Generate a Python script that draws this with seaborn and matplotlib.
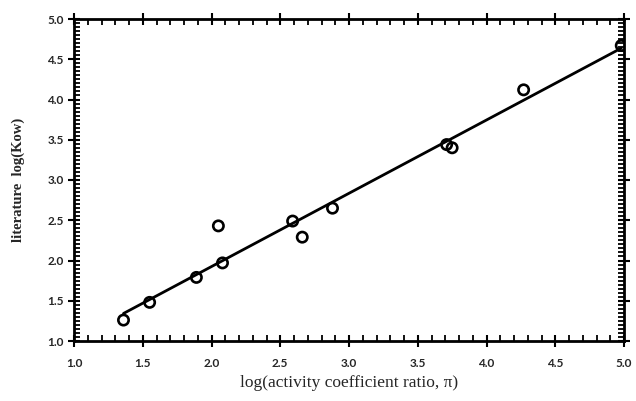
import numpy as np
import pandas as pd
import matplotlib
matplotlib.use("Agg")
import matplotlib.pyplot as plt
import seaborn as sns
from matplotlib.ticker import MultipleLocator

# values
log_gamma_ratio = [1.36, 1.55, 1.89, 2.05, 2.08, 2.59, 2.66, 2.88, 3.71, 3.75, 4.27, 4.98]
log_kow = [1.26, 1.48, 1.79, 2.43, 1.97, 2.49, 2.29, 2.65, 3.44, 3.40, 4.12, 4.67]

df = pd.DataFrame({"x": log_gamma_ratio, "y": log_kow})

sns.set_theme(style="ticks")
plt.rcParams["font.family"] = ["Liberation Serif", "DejaVu Serif"]

fig = plt.figure(figsize=(6.36, 4.01), dpi=100)
ax = fig.add_axes([74 / 636, 60 / 401, 550 / 636, 322 / 401])

# open circles + least squares line
sns.regplot(data=df, x="x", y="y", ax=ax, ci=None, truncate=True,
            scatter_kws=dict(s=55, facecolors="none", edgecolors="black",
                             linewidths=1.9, alpha=1),
            line_kws=dict(color="black", lw=2))

ax.set_xlim(1.0, 5.0)
ax.set_ylim(1.0, 5.0)
ax.xaxis.set_major_locator(MultipleLocator(0.5))
ax.xaxis.set_minor_locator(MultipleLocator(0.1))
ax.yaxis.set_major_locator(MultipleLocator(0.5))
ax.yaxis.set_minor_locator(MultipleLocator(0.05))

for s in ax.spines.values():
    s.set_linewidth(2)
    s.set_color("black")

ax.tick_params(which="major", direction="inout", length=9, width=1.5, color="black",
               top=True, right=True, labelsize=8.5, pad=3)
ax.tick_params(which="minor", direction="in", length=4, width=1.3, color="black",
               top=True, right=True)
for lab in ax.get_xticklabels() + ax.get_yticklabels():
    lab.set_fontfamily(["Lato", "DejaVu Sans"])
    lab.set_fontweight("bold")
ax.tick_params(axis="x", pad=8)

ax.set_xlabel("log(activity coefficient ratio, \u03c0)", fontsize=12.5, labelpad=4)
ax.set_ylabel("literature  log(Kow)", fontsize=10.5, fontweight="bold", labelpad=16)

fig.savefig("out.png", dpi=100, facecolor="white")
